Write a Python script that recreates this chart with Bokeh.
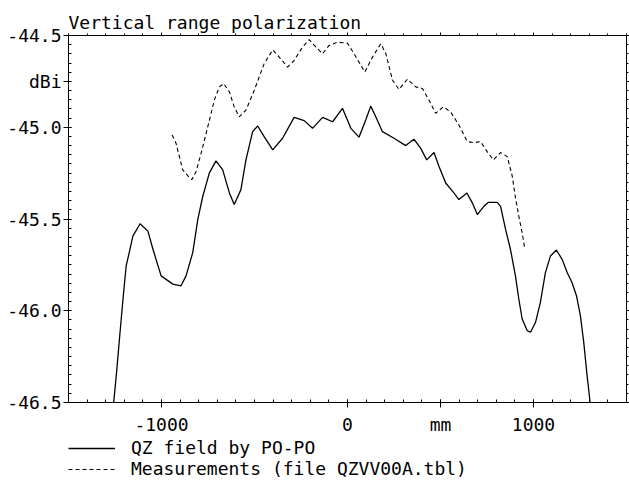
from bokeh.plotting import figure
from bokeh.layouts import column
from bokeh.models import Range1d, LinearAxis, FixedTicker, Legend, LegendItem
from bokeh.embed import file_html
from bokeh.resources import INLINE

# QZ field by PO-PO (solid)
sim_x = [-1262, -1243, -1226, -1207, -1190, -1172, -1154, -1115, -1073, -1046,
         -1002, -939, -895, -868, -832, -805, -778, -743, -707, -671,
         -635, -609, -573, -546, -510, -483, -448, -402, -349, -287,
         -233, -188, -134, -80, -27, 18, 62, 98, 125, 152,
         188, 250, 313, 357, 393, 426, 465, 492, 528, 572,
         599, 642, 671, 698, 733, 758, 805, 823, 850, 876,
         903, 921, 939, 966, 984, 1011, 1037, 1064, 1091, 1123,
         1154, 1181, 1207, 1231, 1252, 1270, 1288, 1302, 1307]
sim_y = [-46.55, -46.352, -46.153, -45.936, -45.756, -45.676, -45.593, -45.526, -45.566, -45.665,
         -45.810, -45.855, -45.864, -45.810, -45.683, -45.503, -45.376, -45.250, -45.183, -45.232,
         -45.358, -45.421, -45.340, -45.178, -45.024, -44.993, -45.051, -45.123, -45.060, -44.946,
         -44.964, -45.006, -44.946, -44.970, -44.897, -45.006, -45.054, -44.961, -44.885, -44.943,
         -45.024, -45.060, -45.100, -45.065, -45.114, -45.178, -45.138, -45.214, -45.304, -45.358,
         -45.394, -45.358, -45.412, -45.476, -45.431, -45.409, -45.409, -45.431, -45.557, -45.665,
         -45.810, -45.936, -46.045, -46.108, -46.117, -46.063, -45.954, -45.792, -45.702, -45.669,
         -45.720, -45.792, -45.846, -45.918, -46.027, -46.171, -46.352, -46.478, -46.55]

# Measurements (dashed)
meas_x = [-943, -922, -886, -859, -837, -814, -787, -751, -716, -689,
          -666, -635, -609, -582, -546, -501, -448, -402, -367, -322,
          -287, -242, -206, -170, -134, -99, -54, 0, 35, 93,
          134, 179, 206, 242, 277, 322, 367, 403, 438, 474,
          515, 554, 599, 644, 679, 715, 751, 784, 823, 859,
          886, 903, 921, 939, 952]
meas_y = [-45.042, -45.087, -45.232, -45.264, -45.286, -45.241, -45.141, -44.997, -44.852, -44.780,
          -44.762, -44.807, -44.889, -44.943, -44.907, -44.798, -44.653, -44.578, -44.618, -44.672,
          -44.636, -44.563, -44.523, -44.563, -44.599, -44.554, -44.536, -44.542, -44.599, -44.699,
          -44.618, -44.545, -44.599, -44.744, -44.794, -44.738, -44.780, -44.789, -44.852, -44.924,
          -44.889, -44.916, -44.988, -45.078, -45.084, -45.078, -45.133, -45.178, -45.138, -45.160,
          -45.268, -45.383, -45.485, -45.575, -45.656]

x_major = [-1000, 0, 500, 1000]
x_minor = list(range(-1500, 1501, 100))
x_labels = {-1000: "-1000", 0: "0", 500: "mm", 1000: "1000"}

y_major = [-46.5, -46.0, -45.5, -45.0, -44.75, -44.5]
y_minor = [round(-46.5 + 0.05 * i, 2) for i in range(41)]
y_labels = {-46.5: "-46.5", -46.0: "-46.0", -45.5: "-45.5", -45.0: "-45.0",
            -44.75: "dBi", -44.5: "-44.5"}

series_names = ["QZ field by PO-PO", "Measurements (file QZVV00A.tbl)"]
title_text = "Vertical range polarization"

FONT = "DejaVu Sans Mono"
SOLID = dict(line_color="black", line_width=1.3)
DASHED = dict(line_color="black", line_width=1.1, line_dash="4 3")

p = figure(width=629, height=437, output_backend="svg", toolbar_location=None,
           x_range=Range1d(-1500, 1500), y_range=Range1d(-46.5, -44.5),
           x_axis_type=None, y_axis_type=None,
           min_border_left=68, min_border_right=2, min_border_top=35, min_border_bottom=33,
           title=title_text)
p.grid.visible = False
p.outline_line_color = "black"
p.background_fill_color = "white"
p.border_fill_color = "white"

p.title.text_font = FONT
p.title.text_font_size = "18px"
p.title.text_font_style = "normal"
p.title.text_color = "black"
p.title.align = "left"
p.title.standoff = 0
p.title.offset = 0


def style_axis(ax, labeled, inward):
    ax.axis_line_color = "black"
    ax.major_tick_line_color = "black"
    ax.minor_tick_line_color = "black"
    if inward:
        ax.major_tick_in = 3
        ax.major_tick_out = 5
        ax.minor_tick_in = 3
        ax.minor_tick_out = 0
    else:
        ax.major_tick_in = 0
        ax.major_tick_out = 3
        ax.minor_tick_in = 0
        ax.minor_tick_out = 2
    if labeled:
        ax.major_label_text_font = FONT
        ax.major_label_text_font_size = "18px"
        ax.major_label_text_color = "black"
    else:
        ax.major_label_text_font_size = "0px"
        ax.major_label_standoff = 0


xb = LinearAxis(ticker=FixedTicker(ticks=x_major, minor_ticks=x_minor),
                major_label_overrides=x_labels)
style_axis(xb, True, True)
xb.major_label_standoff = 6
xt = LinearAxis(ticker=FixedTicker(ticks=x_major, minor_ticks=x_minor))
style_axis(xt, False, False)
yl = LinearAxis(ticker=FixedTicker(ticks=y_major, minor_ticks=y_minor),
                major_label_overrides=y_labels)
style_axis(yl, True, True)
yl.major_label_standoff = 2
yr = LinearAxis(ticker=FixedTicker(ticks=y_major, minor_ticks=y_minor))
style_axis(yr, False, False)

p.add_layout(xb, "below")
p.add_layout(xt, "above")
p.add_layout(yl, "left")
p.add_layout(yr, "right")

p.line(sim_x, sim_y, **SOLID)
p.line(meas_x, meas_y, **DASHED)

# legend strip below the chart (proxy lines lie outside its visible range)
q = figure(width=629, height=44, output_backend="svg", toolbar_location=None,
           x_range=Range1d(0, 1), y_range=Range1d(0, 1),
           x_axis_type=None, y_axis_type=None,
           min_border_left=68, min_border_right=0, min_border_top=0, min_border_bottom=0)
q.grid.visible = False
q.outline_line_color = None
q.background_fill_color = "white"
q.border_fill_color = "white"
l1 = q.line([-10, -9], [-10, -9], **SOLID)
l2 = q.line([-10, -9], [-10, -9], **DASHED)
legend = Legend(items=[LegendItem(label=series_names[0], renderers=[l1]),
                       LegendItem(label=series_names[1], renderers=[l2])],
                location="top_left", orientation="vertical",
                glyph_width=47, glyph_height=20, label_height=20,
                label_standoff=16, spacing=0, padding=2, margin=0,
                border_line_color=None, background_fill_alpha=0,
                label_text_font=FONT, label_text_font_size="18px",
                label_text_color="black")
q.add_layout(legend, "center")

layout = column(p, q, spacing=0)
open("out.html", "w").write(file_html(layout, INLINE))
